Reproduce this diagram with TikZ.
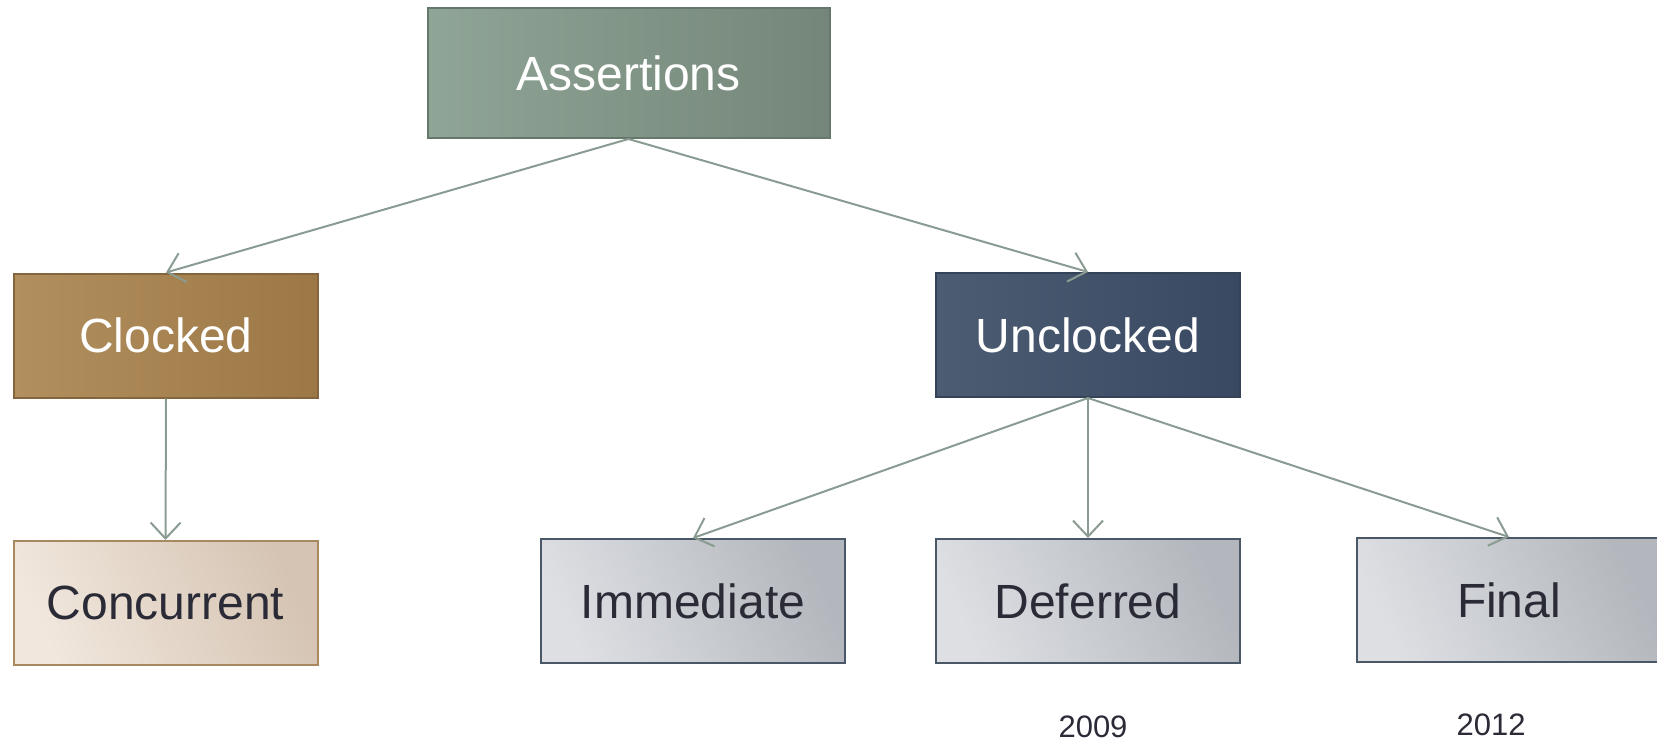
\documentclass[tikz,border=0pt]{standalone}
\usepackage{fontspec}
\setmainfont{Liberation Sans}
\usetikzlibrary{arrows.meta}
\definecolor{linkgray}{HTML}{8A9C92}
\definecolor{darktext}{HTML}{2A2B36}
\definecolor{rootL}{HTML}{8FA596}
\definecolor{rootR}{HTML}{748679}
\definecolor{rootD}{HTML}{66786C}
\definecolor{clkL}{HTML}{B18F5E}
\definecolor{clkR}{HTML}{9D7846}
\definecolor{clkD}{HTML}{85653C}
\definecolor{unclkL}{HTML}{4C5C72}
\definecolor{unclkR}{HTML}{394962}
\definecolor{unclkD}{HTML}{344357}
\definecolor{concL}{HTML}{F1E7DD}
\definecolor{concR}{HTML}{D5C4B3}
\definecolor{concD}{HTML}{A8885E}
\definecolor{leafL}{HTML}{DDDFE3}
\definecolor{leafR}{HTML}{B3B7BD}
\definecolor{leafD}{HTML}{4A5766}
\tikzset{
  box/.style={draw, line width=1pt, minimum width=152pt, minimum height=62pt,
    inner sep=0pt, font=\fontsize{24}{28}\selectfont},
  rootbox/.style={box, minimum width=201pt, minimum height=65pt,
    left color=rootL, right color=rootR, draw=rootD, text=white},
  clockbox/.style={box, left color=clkL, right color=clkR,
    draw=clkD, text=white},
  unclockbox/.style={box, left color=unclkL, right color=unclkR,
    draw=unclkD, text=white},
  concbox/.style={box, left color=concL, right color=concR,
    shading angle=115, draw=concD, text=darktext},
  leafbox/.style={box, left color=leafL, right color=leafR,
    shading angle=115, draw=leafD, text=darktext},
  link/.style={draw=linkgray, line width=1pt,
    -{Straight Barb[length=8pt,width=15pt,line width=1pt]}},
  year/.style={text=darktext, font=\fontsize{15.5}{18}\selectfont}
}
\begin{document}
\begin{tikzpicture}[x=0.5pt,y=-0.5pt]
  \useasboundingbox (0,0) rectangle (1657,743);

  % tree nodes
  \node[rootbox]    (assert) at (628.5,73)  {Assertions};
  \node[clockbox]   (clk)    at (166,335.5) {Clocked};
  \node[unclockbox] (unclk)  at (1088,335)  {Unclocked};
  \node[concbox]    (conc)   at (165.5,603) {Concurrent};
  \node[leafbox]    (imm)    at (693,601)   {Immediate};
  \node[leafbox]    (def)    at (1088,601)  {Deferred};
  \node[leafbox]    (fin)    at (1509,600)  {Final};

  % years under the leaves
  \node[year] (y2009) at (1093,727) {2009};
  \node[year] (y2012) at (1491,725) {2012};

  % connectors
  \draw[link] (assert.south) -- (clk.north);
  \draw[link] (assert.south) -- (unclk.north);
  \draw[link] (clk.south) -- (conc.north);
  \draw[link] (unclk.south) -- (imm.north);
  \draw[link] (unclk.south) -- (def.north);
  \draw[link] (unclk.south) -- (fin.north);
\end{tikzpicture}
\end{document}
